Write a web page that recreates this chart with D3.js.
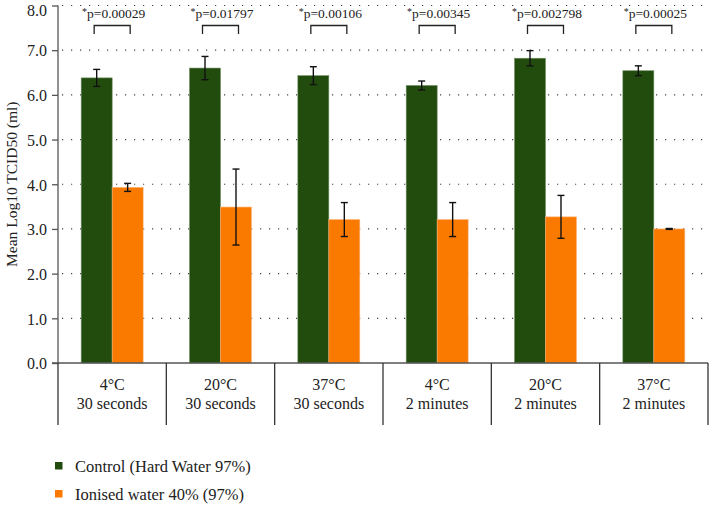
<!DOCTYPE html>
<html>
<head>
<meta charset="utf-8">
<script src="https://cdn.jsdelivr.net/npm/d3@7"></script>
<style>
  html, body { margin: 0; padding: 0; background: #fff; }
  svg { display: block; }
  svg text { font-family: 'Liberation Serif', 'DejaVu Serif', serif; fill: #222; }
</style>
</head>
<body>
<div id="chart"></div>
<script>
// ---- data ----
const categoriesTemp = ["4°C", "20°C", "37°C", "4°C", "20°C", "37°C"];
const categoriesTime = ["30 seconds", "30 seconds", "30 seconds", "2 minutes", "2 minutes", "2 minutes"];
const seriesNames = ["Control (Hard Water 97%)", "Ionised water 40% (97%)"];
const controlValues = [6.38, 6.60, 6.43, 6.21, 6.82, 6.54];
const controlErrors = [0.19, 0.26, 0.20, 0.10, 0.17, 0.11];
const ionisedValues = [3.93, 3.49, 3.21, 3.21, 3.27, 3.00];
const ionisedErrors = [0.09, 0.85, 0.38, 0.38, 0.48, 0.01];
const pLabels = ["p=0.00029", "p=0.01797", "p=0.00106", "p=0.00345", "p=0.002798", "p=0.00025"];
const yTicks = [0, 1, 2, 3, 4, 5, 6, 7, 8];
const colors = ["#224b0e", "#fa7a00"];

(function () {
const FONT = "'Liberation Serif', 'DejaVu Serif', serif";
// ---- layout ----
const W = 709, H = 505;
const mLeft = 58, mRight = 708, mTop = 5.5, mBottom = 363;

const svg = d3.select("#chart").append("svg").attr("width", W).attr("height", H)
  .attr("font-family", FONT);

const idx = d3.range(categoriesTemp.length);
const x = d3.scaleBand().domain(idx).range([mLeft, mRight]).padding(0);
const y = d3.scaleLinear().domain([0, 8]).range([mBottom, mTop]);
const barW = x.bandwidth() * 0.286;

// gridlines (dotted)
svg.append("g").selectAll("line").data(yTicks.filter(d => d > 0)).join("line")
  .attr("x1", mLeft + 4).attr("x2", mRight)
  .attr("y1", d => y(d)).attr("y2", d => y(d))
  .attr("stroke", "#444").attr("stroke-width", 1.2)
  .attr("stroke-dasharray", "1.2,7.8");

// y axis
const yAxis = d3.axisLeft(y).tickValues(yTicks).tickFormat(d3.format(".1f")).tickSize(6).tickPadding(5);
const gy = svg.append("g").attr("transform", `translate(${mLeft},0)`).call(yAxis);
gy.attr("font-family", FONT).attr("font-size", 16);
gy.select(".domain").attr("stroke", "#555").attr("stroke-width", 1.3).attr("d", `M0,${mTop}V${mBottom}`);
gy.selectAll(".tick line").attr("stroke", "#555").attr("stroke-width", 1.3);
gy.selectAll(".tick text").attr("fill", "#222").attr("dy", d => d === 8 ? "0.62em" : "0.36em");

// axis title
svg.append("text")
  .attr("transform", `translate(12,${(mTop + mBottom) / 2}) rotate(-90)`)
  .attr("text-anchor", "middle").attr("dy", "0.35em")
  .attr("font-size", 15.5)
  .text("Mean Log10 TCID50 (ml)");

// bars
const series = [
  { vals: controlValues, errs: controlErrors, off: -barW, color: colors[0], stroke: "#6f8f62" },
  { vals: ionisedValues, errs: ionisedErrors, off: 0, color: colors[1], stroke: "#fbb27a" }
];
series.forEach(s => {
  const cx = i => x(i) + x.bandwidth() / 2 + s.off;
  svg.append("g").selectAll("rect").data(idx).join("rect")
    .attr("x", i => cx(i)).attr("width", barW)
    .attr("y", i => y(s.vals[i])).attr("height", i => y(0) - y(s.vals[i]))
    .attr("fill", s.color).attr("stroke", s.stroke).attr("stroke-width", 0.6);
  const eg = svg.append("g").attr("stroke", "#111").attr("stroke-width", 1.4).attr("fill", "none");
  idx.forEach(i => {
    const mx = cx(i) + barW / 2;
    const hi = y(s.vals[i] + s.errs[i]), lo = y(s.vals[i] - s.errs[i]);
    eg.append("line").attr("x1", mx).attr("x2", mx).attr("y1", hi).attr("y2", lo);
    eg.append("line").attr("x1", mx - 3.5).attr("x2", mx + 3.5).attr("y1", hi).attr("y2", hi);
    eg.append("line").attr("x1", mx - 3.5).attr("x2", mx + 3.5).attr("y1", lo).attr("y2", lo);
  });
});

// x axis line
svg.append("line").attr("x1", mLeft - 6).attr("x2", mRight).attr("y1", mBottom).attr("y2", mBottom)
  .attr("stroke", "#555").attr("stroke-width", 1.3);

// category dividers
const bounds = idx.map(i => x(i)).concat([x(idx[idx.length - 1]) + x.bandwidth()]);
svg.append("g").selectAll("line").data(bounds).join("line")
  .attr("x1", d => d).attr("x2", d => d).attr("y1", mBottom).attr("y2", 425)
  .attr("stroke", "#333").attr("stroke-width", 1.3);

// category labels
const cl = svg.append("g").attr("font-size", 16);
idx.forEach(i => {
  const cx = x(i) + x.bandwidth() / 2;
  cl.append("text").attr("x", cx).attr("y", 390).attr("text-anchor", "middle").text(categoriesTemp[i]);
  cl.append("text").attr("x", cx).attr("y", 409).attr("text-anchor", "middle").text(categoriesTime[i]);
});

// significance brackets
const bg = svg.append("g");
idx.forEach(i => {
  const cx = x(i) + x.bandwidth() / 2;
  bg.append("path")
    .attr("d", `M${cx - 18},${34}V${25.5}H${cx + 18}V${34}`)
    .attr("fill", "none").attr("stroke", "#222").attr("stroke-width", 1.3);
  const t = bg.append("text").attr("x", cx + 1.5).attr("y", 18).attr("text-anchor", "middle")
    .attr("font-size", 13.5);
  t.append("tspan").attr("font-size", 10).attr("dy", "-3").text("*");
  t.append("tspan").attr("dy", "3").text(pLabels[i]);
});

// legend
const lg = svg.append("g").attr("font-size", 16.5);
seriesNames.forEach((name, k) => {
  const cy = 466 + k * 28;
  lg.append("rect").attr("x", 55).attr("y", cy - 4).attr("width", 7.5).attr("height", 7.5).attr("fill", colors[k]);
  lg.append("text").attr("x", 75).attr("y", cy).attr("dy", "0.35em").text(name);
});
})();
</script>
</body>
</html>
